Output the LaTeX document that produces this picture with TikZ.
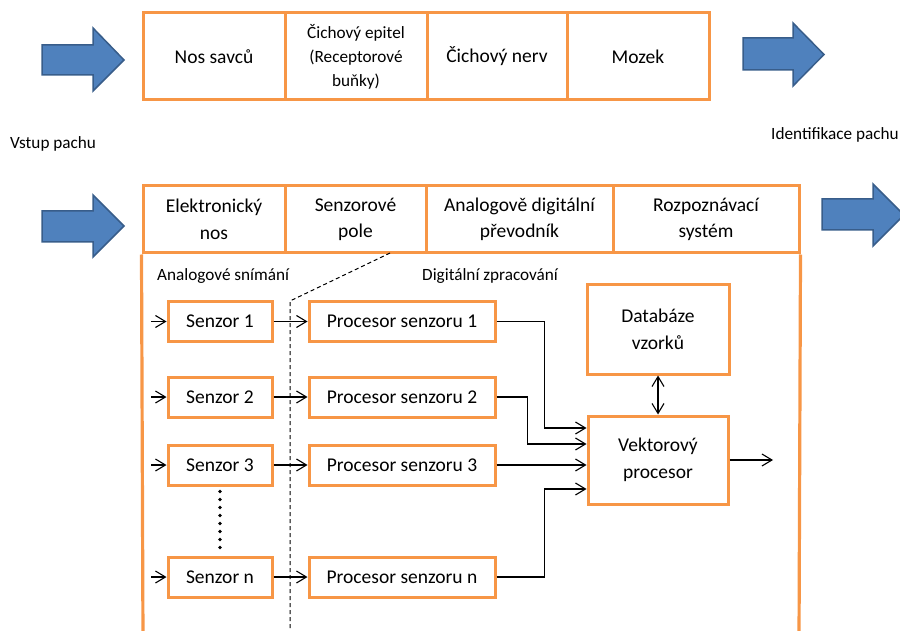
\documentclass[tikz,border=0pt]{standalone}
\usepackage{fontspec}
\setmainfont{Carlito}
\usetikzlibrary{arrows.meta}
\definecolor{orng}{HTML}{F79646}
\definecolor{blfill}{HTML}{4F81BD}
\definecolor{bldraw}{HTML}{385D8A}
\begin{document}
\begin{tikzpicture}[x=1pt,y=-1pt,
  big/.style={font=\fontsize{19.5pt}{26.5pt}\selectfont},
  small/.style={font=\fontsize{17.2pt}{24pt}\selectfont},
  cell/.style={draw=orng, line width=3pt, inner sep=0pt, align=center, big},
  sbox/.style={cell, minimum width=104pt, minimum height=40pt},
  pbox/.style={cell, minimum width=186pt, minimum height=40pt},
  conn/.style={draw=black, line width=1.1pt, -{Straight Barb[length=10pt,width=12pt,line width=1.1pt]}},
  dconn/.style={draw=black, line width=1.1pt, {Straight Barb[length=10pt,width=12pt,line width=1.1pt]}-{Straight Barb[length=10pt,width=12pt,line width=1.1pt]}},
  blockarrow/.style={fill=blfill, draw=bldraw, line width=1.5pt, line join=miter},
  lbl/.style={small, anchor=west, inner sep=0pt}]
\useasboundingbox (0,0) rectangle (900,631);
\clip (0,0) rectangle (900,631);

% ---- top row
\node[cell, minimum width=142pt, minimum height=87pt] (c1) at (214,56.5) {Nos savců};
\node[cell, minimum width=142pt, minimum height=87pt, small] (c2) at (356,56.5) {Čichový epitel\\(Receptorové\\buňky)};
\node[cell, minimum width=140pt, minimum height=87pt] (c3) at (497,56.5) {Čichový nerv};
\node[cell, minimum width=142pt, minimum height=87pt] (c4) at (638,56.5) {Mozek};

\path[blockarrow] (42,45) -- (93,45) -- (93,28) -- (124,60) -- (93,91) -- (93,75) -- (42,75) -- cycle;
\path[blockarrow] (743,38) -- (793,38) -- (793,23) -- (824,54.5) -- (793,86) -- (793,70) -- (743,70) -- cycle;

\node[lbl] (vstup) at (10,144) {Vstup pachu};
\node[lbl] (ident) at (771,135) {Identifikace pachu};

% ---- second section header
\node[cell, minimum width=142pt, minimum height=67pt] (h1) at (214,219.5) {Elektronický\\nos};
\node[cell, minimum width=141pt, minimum height=67pt] (h2) at (355.5,219.5) {Senzorové\\pole};
\node[cell, minimum width=187pt, minimum height=67pt] (h3) at (519.5,219.5) {Analogově digitální\\převodník};
\node[cell, minimum width=186pt, minimum height=67pt] (h4) at (706,219.5) {Rozpoznávací\\systém};
\draw[draw=orng, line width=3.2pt] (h1.south west) -- (143,640);
\draw[draw=orng, line width=3.2pt] (h4.south east) -- (799,640);

\path[blockarrow] (42,211) -- (93,211) -- (93,195) -- (124,226) -- (93,257) -- (93,242) -- (42,242) -- cycle;
\path[blockarrow] (822,199) -- (873,199) -- (873,184) -- (904,215) -- (873,246) -- (873,230) -- (822,230) -- cycle;

\node[lbl] (analog) at (157,276) {Analogové snímání};
\node[lbl] (digit) at (422,276) {Digitální zpracování};

\draw[line width=1pt, dash pattern=on 4pt off 3pt] (390,253) -- (290,301) -- (290,640);

% ---- sensors and processors
\node[sbox] (s1) at (220,321.5) {Senzor 1};
\node[sbox] (s2) at (220,397) {Senzor 2};
\node[sbox] (s3) at (220,465) {Senzor 3};
\node[sbox] (sn) at (220,577) {Senzor n};

\node[pbox] (p1) at (402,321.5) {Procesor senzoru 1};
\node[pbox] (p2) at (402,397) {Procesor senzoru 2};
\node[pbox] (p3) at (402,465) {Procesor senzoru 3};
\node[pbox] (pn) at (402,577) {Procesor senzoru n};

\node[cell, minimum width=142pt, minimum height=89pt] (db) at (658,329.5) {Databáze\\vzorků};
\node[cell, minimum width=140pt, minimum height=88pt] (vp) at (658,460) {Vektorový\\procesor};

\coordinate (i1) at (151,321.5);
\coordinate (i2) at (151,397);
\coordinate (i3) at (151,465);
\coordinate (in) at (151,577);
\coordinate (out) at (773,460);

\draw[conn] (i1) -- (s1);
\draw[conn] (i2) -- (s2);
\draw[conn] (i3) -- (s3);
\draw[conn] (in) -- (sn);

\draw[conn] (s1) -- (p1);
\draw[conn] (s2) -- (p2);
\draw[conn] (s3) -- (p3);
\draw[conn] (sn) -- (pn);

\draw[line width=3.6pt, line cap=round, dash pattern=on 0pt off 8pt] ([yshift=-5pt]s3.south) -- ([yshift=4pt]sn.north);

\draw[conn] (p1.east) -- ++(48,0) |- ([yshift=32pt]vp.west);
\draw[conn] (p2.east) -- ++(31,0) |- ([yshift=16pt]vp.west);
\draw[conn] (p3.east) -- ([yshift=-5pt]vp.west);
\draw[conn] (pn.east) -- ++(48,0) |- ([yshift=-29pt]vp.west);

\draw[dconn] (db.south) -- (vp.north);
\draw[conn] (vp.east) -- (out);
\end{tikzpicture}
\end{document}
